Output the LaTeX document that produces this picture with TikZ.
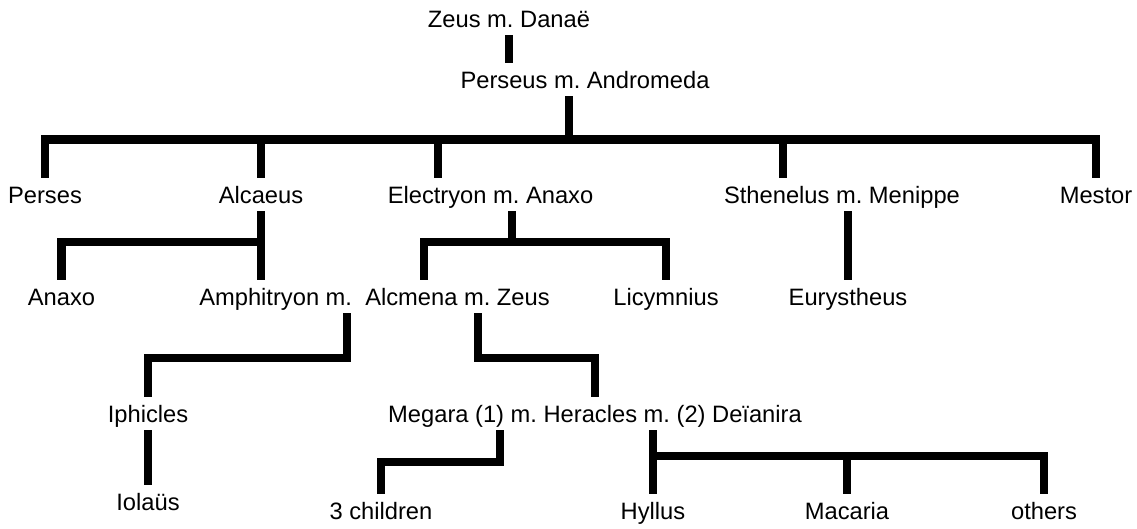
\documentclass[tikz,border=0pt]{standalone}
\usepackage{fontspec}
\setmainfont{Liberation Sans}
\usetikzlibrary{calc}
\frenchspacing
\tikzset{
  % Person or couple label (baseline placed at the coordinate)
  kin/.style={font=\fontsize{23.7}{28}\selectfont,inner sep=0pt,
    text height=25pt,text depth=8pt,anchor=base},
  % Thick line of descent
  descent/.style={line width=8.5pt,color=black},
}

\begin{document}
\begin{tikzpicture}[x=1pt,y=-1pt]
  \useasboundingbox (0,0) rectangle (1137,528);

  % ancestors
  \node[kin] (zeus) at (509,27) {Zeus m. Danaë};
  \node[kin] (perseus) at (585,88) {Perseus m. Andromeda};

  % sons of Perseus
  \node[kin] (perses) at (45,203) {Perses};
  \node[kin] (alcaeus) at (261,203) {Alcaeus};
  \node[kin] (electryon) at (490.5,203) {Electryon m. Anaxo};
  \node[kin] (sthenelus) at (842,203) {Sthenelus m. Menippe};
  \node[kin] (mestor) at (1096,203) {Mestor};

  % grandchildren
  \node[kin] (anaxo) at (61.5,305) {Anaxo};
  \node[kin] (amph) at (374.5,305) {Amphitryon m.\ \ Alcmena m. Zeus};
  \node[kin] (licymnius) at (666,305) {Licymnius};
  \node[kin] (eurystheus) at (848,305) {Eurystheus};

  \node[kin] (iphicles) at (148,422) {Iphicles};
  \node[kin] (megara) at (595,422) {Megara (1) m. Heracles m. (2) Deïanira};

  \node[kin] (iolaus) at (148,510) {Iolaüs};
  \node[kin] (children) at (381,519) {3 children};
  \node[kin] (hyllus) at (653,519) {Hyllus};
  \node[kin] (macaria) at (847,519) {Macaria};
  \node[kin] (others) at (1044,519) {others};

  % junctions on the sibling bars
  \coordinate (jPer) at (569,139.5);
  \coordinate (jElD) at (438,139.5);
  \coordinate (jSth) at (783,139.5);
  \coordinate (jAlc) at (261,242);
  \coordinate (jEl) at (512,242);
  \coordinate (jAlcm) at (424,242);
  \coordinate (jAmph) at (347,358);
  \coordinate (jZeus) at (478,358);
  \coordinate (jMeg) at (500,462);
  \coordinate (jHer) at (653,456);

  \draw[descent] (zeus.south) -- (zeus.south |- perseus.north);
  \draw[descent] (perseus.south -| jPer) -- (jPer);
  \draw[descent] (perses.north) |- (jPer) -| (mestor.north);
  \draw[descent] (alcaeus.north) -- (alcaeus.north |- jPer);
  \draw[descent] (electryon.north -| jElD) -- (jElD);
  \draw[descent] (sthenelus.north -| jSth) -- (jSth);

  \draw[descent] (alcaeus.south) -- (alcaeus.south |- amph.north);
  \draw[descent] (jAlc) -| (anaxo.north);
  \draw[descent] (electryon.south -| jEl) -- (jEl);
  \draw[descent] (amph.north -| jAlcm) -- (jAlcm) -| (licymnius.north);
  \draw[descent] (sthenelus.south -| eurystheus.north) -- (eurystheus.north);

  \draw[descent] (amph.south -| jAmph) -- (jAmph) -| (iphicles.north);
  \draw[descent] (amph.south -| jZeus) -- (jZeus) -| (megara.north);
  \draw[descent] (iphicles.south) -- (iolaus.north);

  \draw[descent] (megara.south -| jMeg) -- (jMeg) -| (children.north);
  \draw[descent] (megara.south -| hyllus.north) -- (hyllus.north);
  \draw[descent] (jHer) -| (others.north);
  \draw[descent] (macaria.north) -- (macaria.north |- jHer);

\end{tikzpicture}
\end{document}
